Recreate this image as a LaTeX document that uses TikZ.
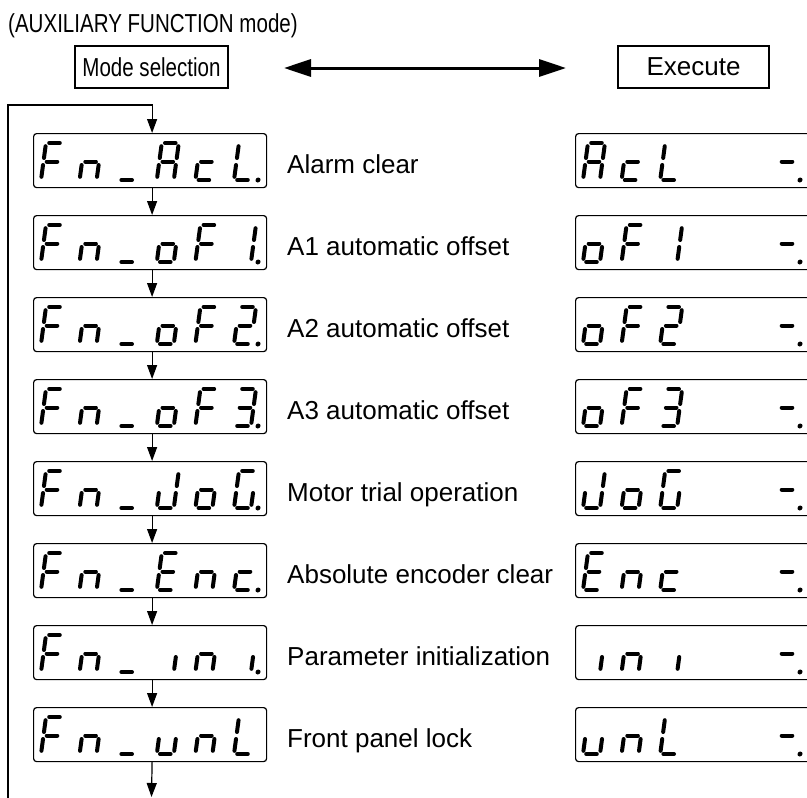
\documentclass[tikz,border=0pt]{standalone}
\usepackage{fontspec}
\setmainfont{Liberation Sans}
\newfontfamily\condfont[FakeStretch=0.79]{Liberation Sans}
\usetikzlibrary{arrows.meta}
% segment drawers (local pixel coords, origin = bottom-left of digit)
\newcommand\sgma{\draw[seg] (3.2,-37)--(13.8,-37);}
\newcommand\sgmb{\draw[seg] (17,-33.8)--(17,-22);}
\newcommand\sgmc{\draw[seg] (17,-15)--(17,-3.2);}
\newcommand\sgmd{\draw[seg] (3.2,0)--(13.8,0);}
\newcommand\sgme{\draw[seg] (0,-15)--(0,-3.2);}
\newcommand\sgmf{\draw[seg] (0,-33.8)--(0,-22);}
\newcommand\sgmg{\draw[seg] (3.2,-18.5)--(13.8,-18.5);}
\newcommand\sgmp{\fill (24,0) circle (2.5pt);}
\def\LF{a,e,f,g}
\def\Ln{c,e,g}
\def\Lus{d}
\def\LA{a,b,c,e,f,g}
\def\Lc{d,e,g}
\def\LL{d,e,f}
\def\Lo{c,d,e,g}
\def\Lone{b,c}
\def\Ltwo{a,b,d,e,g}
\def\Lthree{a,b,c,d,g}
\def\LJ{b,c,d,e}
\def\LG{a,c,d,e,f}
\def\LE{a,d,e,f,g}
\def\Li{c}
\def\Lu{c,d,e}
\def\Ldash{g}
\def\Ldot{p}
% \dig{box left}{box top}{position}{letter}
\newcommand\dig[4]{\begin{scope}[shift={({#1+8+38.6*#3},{#2+47})},xslant=0.135]\foreach \s in #4{\csname sgm\s\endcsname}\end{scope}}
\newcommand\lefthead[1]{\dig{33}{#1}{0}{\LF}\dig{33}{#1}{1}{\Ln}\dig{33}{#1}{2}{\Lus}}
\newcommand\rightend[1]{\dig{575}{#1}{5}{\Ldash}\dig{575}{#1}{5}{\Ldot}}
\begin{document}
\begin{tikzpicture}[x=1pt,y=-1pt,
  seg/.style={line width=4pt,line cap=round},
  dispbox/.style={draw,line width=1.2pt,rounded corners=3pt,minimum width=233pt,minimum height=54pt,inner sep=0pt,anchor=north west},
  hdrbox/.style={draw,line width=1.1pt,inner sep=0pt,minimum height=42pt},
  lbl/.style={anchor=base west,font=\fontsize{26}{30}\selectfont,inner sep=0pt},
  conn/.style={line width=1.2pt,-{Triangle[length=14pt,width=10pt]}},
]
\useasboundingbox (0,0) rectangle (807,798);
\clip (0,0) rectangle (807,798);

% header
\node[anchor=base west,inner sep=0pt,font=\condfont\fontsize{26}{30}\selectfont] (title) at (8,32) {(AUXILIARY FUNCTION mode)};
\node[hdrbox,minimum width=153pt,font=\condfont\fontsize{26}{30}\selectfont] (mode) at (151.5,67) {Mode selection};
\node[hdrbox,minimum width=151pt,font=\fontsize{26}{30}\selectfont] (exec) at (693.5,67) {Execute};
\coordinate (dal) at (284,68);
\coordinate (dar) at (566,68);
\draw[line width=3pt,{Triangle[length=27pt,width=17pt]}-{Triangle[length=27pt,width=17pt]}] (dal) -- (dar);

% display boxes
\foreach \k/\t in {1/133,2/215,3/297,4/379,5/461,6/543,7/625,8/707}{
  \node[dispbox] (L\k) at (33,\t) {};
  \node[dispbox,minimum width=240pt] (R\k) at (575,\t) {};
}

% labels
\node[lbl] (D1) at (287,173) {Alarm clear};
\node[lbl] (D2) at (287,255) {A1 automatic offset};
\node[lbl] (D3) at (287,337) {A2 automatic offset};
\node[lbl] (D4) at (287,419) {A3 automatic offset};
\node[lbl] (D5) at (287,501) {Motor trial operation};
\node[lbl] (D6) at (287,583) {Absolute encoder clear};
\node[lbl] (D7) at (287,665) {Parameter initialization};
\node[lbl] (D8) at (287,747) {Front panel lock};

% row 1
\lefthead{133}\dig{33}{133}{3}{\LA}\dig{33}{133}{4}{\Lc}\dig{33}{133}{5}{\LL}\dig{33}{133}{5}{\Ldot}
\dig{575}{133}{0}{\LA}\dig{575}{133}{1}{\Lc}\dig{575}{133}{2}{\LL}\rightend{133}
% row 2
\lefthead{215}\dig{33}{215}{3}{\Lo}\dig{33}{215}{4}{\LF}\dig{33}{215}{5}{\Lone}\dig{33}{215}{5}{\Ldot}
\dig{575}{215}{0}{\Lo}\dig{575}{215}{1}{\LF}\dig{575}{215}{2}{\Lone}\rightend{215}
% row 3
\lefthead{297}\dig{33}{297}{3}{\Lo}\dig{33}{297}{4}{\LF}\dig{33}{297}{5}{\Ltwo}\dig{33}{297}{5}{\Ldot}
\dig{575}{297}{0}{\Lo}\dig{575}{297}{1}{\LF}\dig{575}{297}{2}{\Ltwo}\rightend{297}
% row 4
\lefthead{379}\dig{33}{379}{3}{\Lo}\dig{33}{379}{4}{\LF}\dig{33}{379}{5}{\Lthree}\dig{33}{379}{5}{\Ldot}
\dig{575}{379}{0}{\Lo}\dig{575}{379}{1}{\LF}\dig{575}{379}{2}{\Lthree}\rightend{379}
% row 5
\lefthead{461}\dig{33}{461}{3}{\LJ}\dig{33}{461}{4}{\Lo}\dig{33}{461}{5}{\LG}\dig{33}{461}{5}{\Ldot}
\dig{575}{461}{0}{\LJ}\dig{575}{461}{1}{\Lo}\dig{575}{461}{2}{\LG}\rightend{461}
% row 6
\lefthead{543}\dig{33}{543}{3}{\LE}\dig{33}{543}{4}{\Ln}\dig{33}{543}{5}{\Lc}\dig{33}{543}{5}{\Ldot}
\dig{575}{543}{0}{\LE}\dig{575}{543}{1}{\Ln}\dig{575}{543}{2}{\Lc}\rightend{543}
% row 7
\lefthead{625}\dig{33}{625}{3}{\Li}\dig{33}{625}{4}{\Ln}\dig{33}{625}{5}{\Li}\dig{33}{625}{5}{\Ldot}
\dig{575}{625}{0}{\Li}\dig{575}{625}{1}{\Ln}\dig{575}{625}{2}{\Li}\rightend{625}
% row 8
\lefthead{707}\dig{33}{707}{3}{\Lu}\dig{33}{707}{4}{\Ln}\dig{33}{707}{5}{\LL}
\dig{575}{707}{0}{\Lu}\dig{575}{707}{1}{\Ln}\dig{575}{707}{2}{\LL}\rightend{707}

% connectors
\coordinate (loopbot) at (8,800);
\coordinate (looptop) at (8,105);
\coordinate (outend) at (151.5,797);
\draw[conn] (loopbot) -- (looptop) -| ([xshift=2pt]L1.north);
\foreach \a/\b in {1/2,2/3,3/4,4/5,5/6,6/7,7/8}{
  \draw[conn] ([xshift=2pt]L\a.south) -- ([xshift=2pt]L\b.north);
}
\draw[conn] ([xshift=2pt]L8.south) -- (outend);
\end{tikzpicture}
\end{document}
